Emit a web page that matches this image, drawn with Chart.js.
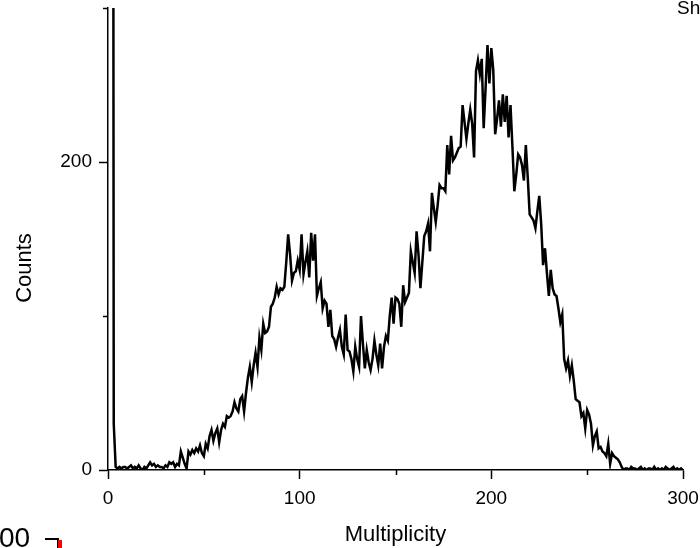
<!DOCTYPE html>
<html lang="en">
<head>
<meta charset="UTF-8" />
<title>Multiplicity histogram</title>
<style>
  html, body { margin: 0; padding: 0; background: #fff; }
  #wrap { width: 700px; height: 548px; }
</style>
</head>
<body>
<div id="wrap"><canvas id="chart" width="700" height="548"></canvas></div>

<script src="https://cdn.jsdelivr.net/npm/chart.js"></script>
<script>
  // bins of multiplicity, width 1, from 0 to 300
  const binStart = 0;
  const binWidth = 1;

  // counts per bin (the first bins go far off the top of the plot)
  const counts = [
    1500, 1500, 1500, 30, 2, 1, 2, 1, 2, 2,
    1, 2, 3, 1, 2, 1, 3, 1, 0, 2,
    1, 3, 5, 3, 4, 2, 3, 2, 2, 1,
    3, 2, 5, 4, 5, 2, 4, 3, 12, 8,
    4, 1, 12, 10, 13, 11, 14, 12, 16, 11,
    9, 17, 14, 22, 26, 19, 24, 27, 18, 26,
    30, 28, 35, 34, 35, 38, 44, 40, 38, 46,
    48, 38, 50, 60, 67, 57, 68, 76, 67, 86,
    78, 95, 89, 90, 93, 106, 108, 112, 119, 114,
    118, 117, 119, 135, 153, 140, 123, 128, 129, 136,
    130, 153, 127, 135, 142, 125, 154, 136, 153, 113,
    118, 122, 105, 110, 108, 93, 104, 87, 85, 80,
    86, 91, 80, 75, 101, 78, 77, 72, 64, 80,
    72, 67, 100, 82, 66, 78, 70, 65, 72, 84,
    75, 68, 82, 66, 80, 87, 84, 100, 112, 95,
    112, 111, 108, 93, 120, 109, 112, 115, 142, 135,
    128, 155, 140, 118, 135, 152, 155, 160, 142, 180,
    170, 161, 172, 185, 183, 183, 181, 211, 192, 217,
    201, 203, 206, 209, 210, 237, 226, 215, 225, 234,
    225, 203, 259, 266, 257, 267, 222, 248, 276, 251,
    274, 260, 218, 228, 240, 223, 244, 226, 243, 216,
    237, 210, 181, 192, 205, 203, 198, 188, 211, 190,
    166, 164, 162, 157, 168, 178, 160, 133, 144, 128,
    113, 130, 118, 114, 113, 105, 96, 101, 72, 66,
    71, 61, 68, 58, 46, 45, 44, 35, 37, 27,
    39, 36, 30, 16, 22, 25, 14, 15, 12, 11,
    9, 17, 4, 11, 9, 8, 7, 5, 2, 0,
    1, 1, 0, 2, 1, 1, 0, 1, 2, 0,
    1, 0, 1, 1, 0, 2, 0, 1, 0, 1,
    0, 2, 1, 0, 1, 2, 0, 1, 0, 1, 0
  ];

  // axis ticks
  const xMajorTicks = [0, 100, 200, 300];
  const xMinorTicks = [50, 150, 250];
  const yMajorTicks = [0, 200];
  const yMinorTicks = [100, 300];

  const xLabel = "Multiplicity";
  const yLabel = "Counts";

  const FONT = "'Liberation Sans', Arial, sans-serif";

  const points = counts.map((c, i) => ({ x: binStart + i * binWidth, y: c }));

  // short minor ticks, the y title, and bits of the neighbouring panels at the edges
  const extrasPlugin = {
    id: "extras",
    afterDraw(chart) {
      const ctx = chart.ctx;
      const xs = chart.scales.x, ys = chart.scales.y;
      ctx.save();
      ctx.strokeStyle = "#000";
      ctx.lineWidth = 1.5;
      ctx.beginPath();
      xMinorTicks.forEach(v => {
        const px = Math.round(xs.getPixelForValue(v)) + 0.5;
        ctx.moveTo(px, xs.top);
        ctx.lineTo(px, xs.top + 5);
      });
      yMinorTicks.forEach(v => {
        const py = Math.round(ys.getPixelForValue(v)) + 0.5;
        ctx.moveTo(ys.right, py);
        ctx.lineTo(ys.right - 5, py);
      });
      ctx.stroke();

      ctx.fillStyle = "#000";
      ctx.font = "22px " + FONT;
      ctx.save();
      ctx.translate(25, 268);
      ctx.rotate(-Math.PI / 2);
      ctx.textAlign = "center";
      ctx.textBaseline = "middle";
      ctx.fillText(yLabel, 0, 0);
      ctx.restore();

      ctx.font = "19px " + FONT;
      ctx.textAlign = "left";
      ctx.textBaseline = "alphabetic";
      ctx.fillText("Sh", 677, 14);

      ctx.font = "28px " + FONT;
      ctx.fillText("00", -1, 547);
      ctx.beginPath();
      ctx.lineWidth = 2;
      ctx.moveTo(45, 539);
      ctx.lineTo(58, 539);
      ctx.lineTo(58, 548);
      ctx.stroke();
      ctx.fillStyle = "#ff0000";
      ctx.fillRect(58, 540, 4, 8);
      ctx.restore();
    }
  };

  new Chart(document.getElementById("chart"), {
    type: "line",
    data: {
      datasets: [{
        data: points,
        borderColor: "#000",
        borderWidth: 2.5,
        pointRadius: 0,
        tension: 0,
        fill: false
      }]
    },
    options: {
      responsive: false,
      animation: false,
      layout: { padding: { left: 0, right: 17, top: 8, bottom: 0 } },
      plugins: { legend: { display: false }, tooltip: { enabled: false } },
      scales: {
        x: {
          type: "linear",
          min: 0,
          max: 300,
          afterFit: s => { s.height = 78; s.paddingLeft = 0; s.paddingRight = 0; },
          afterBuildTicks: s => { s.ticks = xMajorTicks.map(v => ({ value: v })); },
          ticks: {
            color: "#000",
            font: { family: FONT, size: 19 },
            padding: 8,
            maxRotation: 0,
            callback: v => String(v)
          },
          grid: { drawOnChartArea: false, tickLength: 9, tickColor: "#000", tickWidth: 1.5 },
          border: { color: "#000", width: 1.5 },
          title: { display: true, text: xLabel, color: "#000", font: { family: FONT, size: 22 }, padding: { top: 0, bottom: 0 } }
        },
        y: {
          min: 0,
          max: 300,
          afterFit: s => { s.width = 108; s.paddingTop = 0; s.paddingBottom = 0; },
          afterBuildTicks: s => { s.ticks = yMajorTicks.map(v => ({ value: v })); },
          ticks: {
            color: "#000",
            font: { family: FONT, size: 19 },
            padding: 7,
            callback: v => String(v)
          },
          grid: { drawOnChartArea: false, tickLength: 9, tickColor: "#000", tickWidth: 1.5 },
          border: { color: "#000", width: 1.5 }
        }
      }
    },
    plugins: [extrasPlugin]
  });
</script>
</body>
</html>
